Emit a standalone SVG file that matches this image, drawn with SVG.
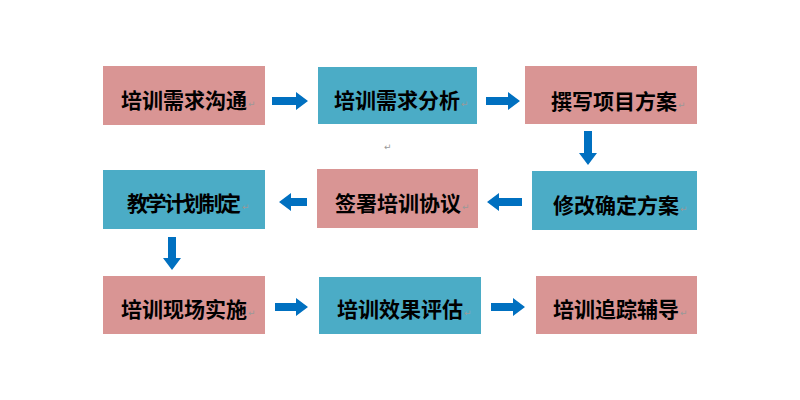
<svg xmlns="http://www.w3.org/2000/svg" width="800" height="400" viewBox="0 0 800 400">
<style>
.pink{fill:#d99594}
.blue{fill:#4bacc6}
.t{font-family:"Noto Sans CJK SC","Liberation Sans",sans-serif;font-size:21px;font-weight:bold;fill:#000}
.r{font-family:"DejaVu Sans",sans-serif;font-size:9px;fill:#999}
.arr{fill:#0070c0}
</style>
<rect width="800" height="400" fill="#fff"/>
<g id="n1"><rect class="pink" x="103" y="66" width="162" height="59"/><text class="t" x="121" y="108" textLength="126">培训需求沟通</text><text class="r" x="248" y="107">↵</text></g>
<g id="n2"><rect class="blue" x="318" y="67" width="159" height="57"/><text class="t" x="334" y="108" textLength="126">培训需求分析</text><text class="r" x="461" y="107">↵</text></g>
<g id="n3"><rect class="pink" x="525" y="66" width="172" height="58"/><text class="t" x="551" y="109" textLength="126">撰写项目方案</text><text class="r" x="678" y="108">↵</text></g>
<g id="n4"><rect class="blue" x="103" y="170" width="162" height="59"/><text class="t" x="127" y="211" font-size="19" textLength="114">教学计划制定</text><text class="r" x="242" y="210">↵</text></g>
<g id="n5"><rect class="pink" x="317" y="169" width="161" height="59"/><text class="t" x="335" y="211" textLength="126">签署培训协议</text><text class="r" x="462" y="210">↵</text></g>
<g id="n6"><rect class="blue" x="532" y="171" width="165" height="59"/><text class="t" x="553" y="213" textLength="126">修改确定方案</text><text class="r" x="680" y="212">↵</text></g>
<g id="n7"><rect class="pink" x="103" y="276" width="162" height="58"/><text class="t" x="121" y="317" textLength="126">培训现场实施</text><text class="r" x="248" y="316">↵</text></g>
<g id="n8"><rect class="blue" x="319" y="277" width="162" height="57"/><text class="t" x="337" y="317" textLength="126">培训效果评估</text><text class="r" x="464" y="316">↵</text></g>
<g id="n9"><rect class="pink" x="536" y="276" width="161" height="58"/><text class="t" x="553" y="317" textLength="126">培训追踪辅导</text><text class="r" x="680" y="316">↵</text></g>
<text class="r" x="384" y="150">↵</text>
<g id="connectors">
<polygon class="arr" points="272,97 296,97 296,92 308,101 296,110 296,105 272,105"/>
<polygon class="arr" points="486,97 508,97 508,92 520,101 508,110 508,105 486,105"/>
<polygon class="arr" points="584,131 592,131 592,153 597,153 588,165 579,153 584,153"/>
<polygon class="arr" points="307,198 291,198 291,193 279,202 291,211 291,206 307,206"/>
<polygon class="arr" points="522,198 499,198 499,193 487,202 499,211 499,206 522,206"/>
<polygon class="arr" points="168,237 176,237 176,258 181,258 172,270 163,258 168,258"/>
<polygon class="arr" points="275,303 296,303 296,298 308,307 296,316 296,311 275,311"/>
<polygon class="arr" points="491,303 513,303 513,298 525,307 513,316 513,311 491,311"/>
</g>
</svg>
